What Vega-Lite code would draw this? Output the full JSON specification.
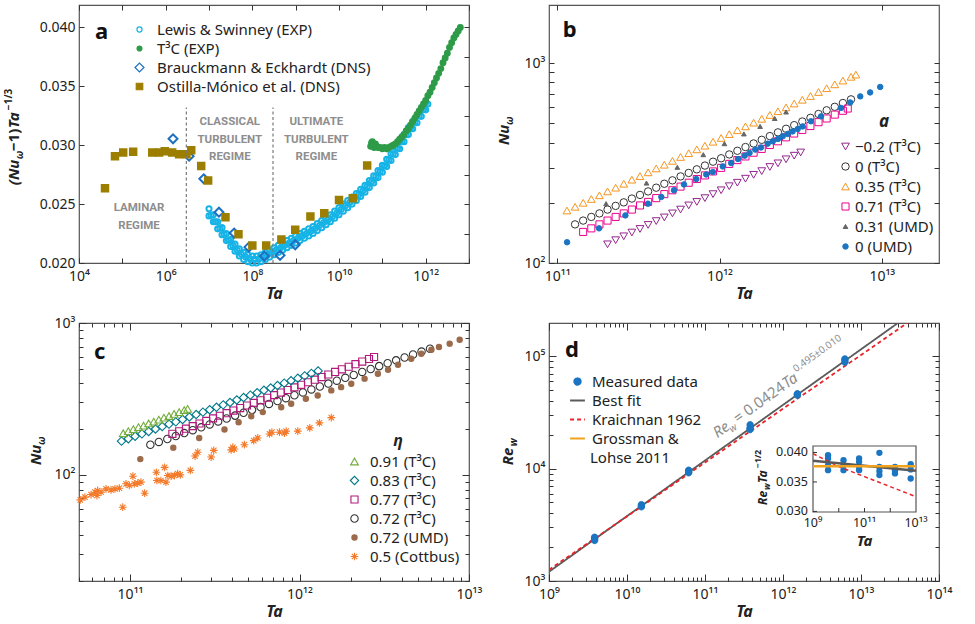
{
  "$schema": "https://vega.github.io/schema/vega-lite/v6.json",
  "background": "white",
  "padding": {"left": 3, "top": 3, "right": 5, "bottom": 5},
  "columns": 2,
  "spacing": {"row": 60, "column": 80},
  "bounds": "flush",
  "resolve": {
    "scale": {"shape": "independent", "fill": "independent", "stroke": "independent", "size": "independent", "strokeDash": "independent", "color": "independent", "opacity": "independent"},
    "legend": {"shape": "independent", "fill": "independent", "stroke": "independent", "size": "independent", "strokeDash": "independent"}
  },
  "concat": [
    {
      "width": 390, "height": 258,
      "resolve": {"axis": {"x": "independent", "y": "independent"}},
      "layer": [
        {"layer": [
          {
            "data": {"values": [
              {"ta":1e7,"v":0.0246,"s":"LS"},{"ta":1e7,"v":0.024,"s":"LS"},{"ta":1.122e7,"v":0.02405,"s":"LS"},
              {"ta":1.259e7,"v":0.0241,"s":"LS"},{"ta":1.259e7,"v":0.0235,"s":"LS"},{"ta":1.413e7,"v":0.0235,"s":"LS"},
              {"ta":1.585e7,"v":0.0235,"s":"LS"},{"ta":1.585e7,"v":0.0229,"s":"LS"},{"ta":1.778e7,"v":0.02295,"s":"LS"},
              {"ta":1.995e7,"v":0.023,"s":"LS"},{"ta":1.995e7,"v":0.0224,"s":"LS"},{"ta":2.239e7,"v":0.02245,"s":"LS"},
              {"ta":2.512e7,"v":0.0225,"s":"LS"},{"ta":2.512e7,"v":0.0219,"s":"LS"},{"ta":2.818e7,"v":0.02195,"s":"LS"},
              {"ta":3.162e7,"v":0.022,"s":"LS"},{"ta":3.162e7,"v":0.0214,"s":"LS"},{"ta":3.548e7,"v":0.0215,"s":"LS"},
              {"ta":3.981e7,"v":0.0216,"s":"LS"},{"ta":3.981e7,"v":0.021,"s":"LS"},{"ta":4.467e7,"v":0.0211,"s":"LS"},
              {"ta":5.012e7,"v":0.0212,"s":"LS"},{"ta":5.012e7,"v":0.0206,"s":"LS"},{"ta":5.623e7,"v":0.02075,"s":"LS"},
              {"ta":6.31e7,"v":0.0209,"s":"LS"},{"ta":6.31e7,"v":0.0203,"s":"LS"},{"ta":7.079e7,"v":0.0205,"s":"LS"},
              {"ta":7.943e7,"v":0.0207,"s":"LS"},{"ta":7.943e7,"v":0.0201,"s":"LS"},{"ta":8.913e7,"v":0.02035,"s":"LS"},
              {"ta":1e8,"v":0.0206,"s":"LS"},{"ta":1e8,"v":0.02,"s":"LS"},{"ta":1.122e8,"v":0.0203,"s":"LS"},
              {"ta":1.259e8,"v":0.0206,"s":"LS"},{"ta":1.259e8,"v":0.02,"s":"LS"},{"ta":1.413e8,"v":0.02035,"s":"LS"},
              {"ta":1.585e8,"v":0.0207,"s":"LS"},{"ta":1.585e8,"v":0.0201,"s":"LS"},{"ta":1.778e8,"v":0.0205,"s":"LS"},
              {"ta":1.995e8,"v":0.0209,"s":"LS"},{"ta":1.995e8,"v":0.0203,"s":"LS"},{"ta":2.239e8,"v":0.0207,"s":"LS"},
              {"ta":2.512e8,"v":0.0211,"s":"LS"},{"ta":2.512e8,"v":0.0205,"s":"LS"},{"ta":2.818e8,"v":0.0209,"s":"LS"},
              {"ta":3.162e8,"v":0.0213,"s":"LS"},{"ta":3.162e8,"v":0.0207,"s":"LS"},{"ta":3.548e8,"v":0.0211,"s":"LS"},
              {"ta":3.981e8,"v":0.0215,"s":"LS"},{"ta":3.981e8,"v":0.0209,"s":"LS"},{"ta":4.467e8,"v":0.0213,"s":"LS"},
              {"ta":5.012e8,"v":0.0217,"s":"LS"},{"ta":5.012e8,"v":0.0211,"s":"LS"},{"ta":5.623e8,"v":0.0215,"s":"LS"},
              {"ta":6.31e8,"v":0.0219,"s":"LS"},{"ta":6.31e8,"v":0.0213,"s":"LS"},{"ta":7.079e8,"v":0.0217,"s":"LS"},
              {"ta":7.943e8,"v":0.0221,"s":"LS"},{"ta":7.943e8,"v":0.0215,"s":"LS"},{"ta":8.913e8,"v":0.0219,"s":"LS"},
              {"ta":1e9,"v":0.0223,"s":"LS"},{"ta":1e9,"v":0.0217,"s":"LS"},{"ta":1.122e9,"v":0.0221,"s":"LS"},
              {"ta":1.259e9,"v":0.0225,"s":"LS"},{"ta":1.259e9,"v":0.0219,"s":"LS"},{"ta":1.413e9,"v":0.0223,"s":"LS"},
              {"ta":1.585e9,"v":0.0227,"s":"LS"},{"ta":1.585e9,"v":0.0221,"s":"LS"},{"ta":1.778e9,"v":0.0225,"s":"LS"},
              {"ta":1.995e9,"v":0.0229,"s":"LS"},{"ta":1.995e9,"v":0.0223,"s":"LS"},{"ta":2.239e9,"v":0.0227,"s":"LS"},
              {"ta":2.512e9,"v":0.0231,"s":"LS"},{"ta":2.512e9,"v":0.0225,"s":"LS"},{"ta":2.818e9,"v":0.02293,"s":"LS"},
              {"ta":3.162e9,"v":0.02335,"s":"LS"},{"ta":3.162e9,"v":0.02275,"s":"LS"},{"ta":3.548e9,"v":0.02318,"s":"LS"},
              {"ta":3.981e9,"v":0.0236,"s":"LS"},{"ta":3.981e9,"v":0.023,"s":"LS"},{"ta":4.467e9,"v":0.02343,"s":"LS"},
              {"ta":5.012e9,"v":0.02385,"s":"LS"},{"ta":5.012e9,"v":0.02325,"s":"LS"},{"ta":5.623e9,"v":0.02368,"s":"LS"},
              {"ta":6.31e9,"v":0.0241,"s":"LS"},{"ta":6.31e9,"v":0.0235,"s":"LS"},{"ta":7.079e9,"v":0.02395,"s":"LS"},
              {"ta":7.943e9,"v":0.0244,"s":"LS"},{"ta":7.943e9,"v":0.0238,"s":"LS"},{"ta":8.913e9,"v":0.02425,"s":"LS"},
              {"ta":1e10,"v":0.0247,"s":"LS"},{"ta":1e10,"v":0.0241,"s":"LS"},{"ta":1.122e10,"v":0.02455,"s":"LS"},
              {"ta":1.259e10,"v":0.025,"s":"LS"},{"ta":1.259e10,"v":0.0244,"s":"LS"},{"ta":1.413e10,"v":0.02485,"s":"LS"},
              {"ta":1.585e10,"v":0.0253,"s":"LS"},{"ta":1.585e10,"v":0.0247,"s":"LS"},{"ta":1.778e10,"v":0.02515,"s":"LS"},
              {"ta":1.995e10,"v":0.0256,"s":"LS"},{"ta":1.995e10,"v":0.025,"s":"LS"},{"ta":2.239e10,"v":0.02545,"s":"LS"},
              {"ta":2.512e10,"v":0.0259,"s":"LS"},{"ta":2.512e10,"v":0.0253,"s":"LS"},{"ta":2.818e10,"v":0.02578,"s":"LS"},
              {"ta":3.162e10,"v":0.02625,"s":"LS"},{"ta":3.162e10,"v":0.02565,"s":"LS"},{"ta":3.548e10,"v":0.02613,"s":"LS"},
              {"ta":3.981e10,"v":0.0266,"s":"LS"},{"ta":3.981e10,"v":0.026,"s":"LS"},{"ta":4.467e10,"v":0.0265,"s":"LS"},
              {"ta":5.012e10,"v":0.027,"s":"LS"},{"ta":5.012e10,"v":0.0264,"s":"LS"},{"ta":5.623e10,"v":0.0269,"s":"LS"},
              {"ta":6.31e10,"v":0.0274,"s":"LS"},{"ta":6.31e10,"v":0.0268,"s":"LS"},{"ta":7.079e10,"v":0.02733,"s":"LS"},
              {"ta":7.943e10,"v":0.02785,"s":"LS"},{"ta":7.943e10,"v":0.02725,"s":"LS"},{"ta":8.913e10,"v":0.02778,"s":"LS"},
              {"ta":1e11,"v":0.0283,"s":"LS"},{"ta":1e11,"v":0.0277,"s":"LS"},{"ta":1.122e11,"v":0.02825,"s":"LS"},
              {"ta":1.259e11,"v":0.0288,"s":"LS"},{"ta":1.259e11,"v":0.0282,"s":"LS"},{"ta":1.413e11,"v":0.02875,"s":"LS"},
              {"ta":1.585e11,"v":0.0293,"s":"LS"},{"ta":1.585e11,"v":0.0287,"s":"LS"},{"ta":1.778e11,"v":0.02925,"s":"LS"},
              {"ta":1.995e11,"v":0.0298,"s":"LS"},{"ta":1.995e11,"v":0.0292,"s":"LS"},{"ta":2.239e11,"v":0.02975,"s":"LS"},
              {"ta":2.512e11,"v":0.0303,"s":"LS"},{"ta":2.512e11,"v":0.0297,"s":"LS"},{"ta":2.818e11,"v":0.0303,"s":"LS"},
              {"ta":3.162e11,"v":0.0309,"s":"LS"},{"ta":3.162e11,"v":0.0303,"s":"LS"},{"ta":3.548e11,"v":0.0309,"s":"LS"},
              {"ta":3.981e11,"v":0.0315,"s":"LS"},{"ta":3.981e11,"v":0.0309,"s":"LS"},{"ta":4.467e11,"v":0.03145,"s":"LS"},
              {"ta":5.012e11,"v":0.032,"s":"LS"},{"ta":5.012e11,"v":0.0314,"s":"LS"},{"ta":5.623e11,"v":0.03195,"s":"LS"},
              {"ta":6.31e11,"v":0.0325,"s":"LS"},{"ta":6.31e11,"v":0.0319,"s":"LS"},{"ta":7.079e11,"v":0.03248,"s":"LS"},
              {"ta":7.943e11,"v":0.03305,"s":"LS"},{"ta":7.943e11,"v":0.03245,"s":"LS"},{"ta":8.913e11,"v":0.03303,"s":"LS"},
              {"ta":1e12,"v":0.0336,"s":"LS"},{"ta":1e12,"v":0.033,"s":"LS"},{"ta":1.122e12,"v":0.0335,"s":"LS"},
              {"ta":5.37e10,"v":0.0299,"s":"T3C"},{"ta":5.623e10,"v":0.0302,"s":"T3C"},{"ta":5.888e10,"v":0.0303,"s":"T3C"},
              {"ta":6.166e10,"v":0.03,"s":"T3C"},{"ta":6.457e10,"v":0.0298,"s":"T3C"},{"ta":6.918e10,"v":0.0301,"s":"T3C"},
              {"ta":7.413e10,"v":0.0299,"s":"T3C"},{"ta":7.943e10,"v":0.0298,"s":"T3C"},{"ta":8.913e10,"v":0.0298,"s":"T3C"},
              {"ta":1e11,"v":0.0297,"s":"T3C"},{"ta":1.122e11,"v":0.0298,"s":"T3C"},{"ta":1.259e11,"v":0.0297,"s":"T3C"},
              {"ta":1.413e11,"v":0.0298,"s":"T3C"},{"ta":1.585e11,"v":0.0299,"s":"T3C"},{"ta":1.778e11,"v":0.03,"s":"T3C"},
              {"ta":1.995e11,"v":0.0301,"s":"T3C"},{"ta":2.239e11,"v":0.0303,"s":"T3C"},{"ta":2.512e11,"v":0.0305,"s":"T3C"},
              {"ta":2.818e11,"v":0.0307,"s":"T3C"},{"ta":3.162e11,"v":0.0309,"s":"T3C"},{"ta":3.548e11,"v":0.0312,"s":"T3C"},
              {"ta":3.981e11,"v":0.0314,"s":"T3C"},{"ta":4.467e11,"v":0.0317,"s":"T3C"},{"ta":5.012e11,"v":0.032,"s":"T3C"},
              {"ta":5.623e11,"v":0.0323,"s":"T3C"},{"ta":6.31e11,"v":0.0326,"s":"T3C"},{"ta":7.079e11,"v":0.0329,"s":"T3C"},
              {"ta":7.943e11,"v":0.0332,"s":"T3C"},{"ta":8.913e11,"v":0.0335,"s":"T3C"},{"ta":1e12,"v":0.0338,"s":"T3C"},
              {"ta":1.122e12,"v":0.0342,"s":"T3C"},{"ta":1.259e12,"v":0.0345,"s":"T3C"},{"ta":1.413e12,"v":0.0349,"s":"T3C"},
              {"ta":1.585e12,"v":0.0353,"s":"T3C"},{"ta":1.778e12,"v":0.0357,"s":"T3C"},{"ta":1.995e12,"v":0.0361,"s":"T3C"},
              {"ta":2.239e12,"v":0.0365,"s":"T3C"},{"ta":2.512e12,"v":0.037,"s":"T3C"},{"ta":2.818e12,"v":0.0374,"s":"T3C"},
              {"ta":3.162e12,"v":0.0378,"s":"T3C"},{"ta":3.548e12,"v":0.0383,"s":"T3C"},{"ta":3.981e12,"v":0.0387,"s":"T3C"},
              {"ta":4.467e12,"v":0.0391,"s":"T3C"},{"ta":5.012e12,"v":0.0394,"s":"T3C"},{"ta":5.623e12,"v":0.0397,"s":"T3C"},
              {"ta":6.31e12,"v":0.04,"s":"T3C"},
              {"ta":1.479e6,"v":0.03054,"s":"BE"},{"ta":3.467e6,"v":0.02907,"s":"BE"},{"ta":7.586e6,"v":0.02715,"s":"BE"},
              {"ta":1.698e7,"v":0.02431,"s":"BE"},{"ta":3.802e7,"v":0.02254,"s":"BE"},{"ta":8.318e7,"v":0.02135,"s":"BE"},
              {"ta":1.905e8,"v":0.02059,"s":"BE"},{"ta":4.365e8,"v":0.02065,"s":"BE"},{"ta":9.772e8,"v":0.02155,"s":"BE"},
              {"ta":3.981e4,"v":0.02634,"s":"OM"},{"ta":6.761e4,"v":0.02907,"s":"OM"},{"ta":1.047e5,"v":0.02938,"s":"OM"},
              {"ta":1.778e5,"v":0.02944,"s":"OM"},{"ta":4.898e5,"v":0.02938,"s":"OM"},{"ta":7.079e5,"v":0.02938,"s":"OM"},
              {"ta":9.55e5,"v":0.02949,"s":"OM"},{"ta":1.413e6,"v":0.02938,"s":"OM"},{"ta":2.042e6,"v":0.02924,"s":"OM"},
              {"ta":3.02e6,"v":0.02924,"s":"OM"},{"ta":3.89e6,"v":0.02958,"s":"OM"},{"ta":6.607e6,"v":0.02823,"s":"OM"},
              {"ta":9.55e6,"v":0.02701,"s":"OM"},{"ta":2.399e7,"v":0.02389,"s":"OM"},{"ta":4.786e7,"v":0.02245,"s":"OM"},
              {"ta":1e8,"v":0.02149,"s":"OM"},{"ta":2.089e8,"v":0.02149,"s":"OM"},{"ta":4.677e8,"v":0.022,"s":"OM"},
              {"ta":9.772e8,"v":0.02282,"s":"OM"},{"ta":2.188e9,"v":0.02394,"s":"OM"},{"ta":4.571e9,"v":0.02423,"s":"OM"},
              {"ta":1e10,"v":0.02535,"s":"OM"},{"ta":2.089e10,"v":0.02549,"s":"OM"},{"ta":4.467e10,"v":0.02828,"s":"OM"}
            ]},
            "mark": {"type": "point", "filled": true, "opacity": 1, "strokeWidth": 2},
            "encoding": {
              "x": {"field": "ta", "type": "quantitative", "scale": {"type": "log", "domain": [1e4, 1e13], "nice": false},
                "axis": {"values": [1e4,1e5,1e6,1e7,1e8,1e9,1e10,1e11,1e12,1e13], "title": "Ta",
                  "labelExpr": "abs(log(datum.value)/LN10-round(log(datum.value)/LN10))<0.01 && round(log(datum.value)/LN10)%2==0 ? '10'+['⁰','¹','²','³','⁴','⁵','⁶','⁷','⁸','⁹','¹⁰','¹¹','¹²','¹³','¹⁴'][round(log(datum.value)/LN10)] : ''"}},
              "y": {"field": "v", "type": "quantitative", "scale": {"domain": [0.02, 0.0419], "nice": false, "zero": false},
                "axis": {"values": [0.02,0.0225,0.025,0.0275,0.03,0.0325,0.035,0.0375,0.04], "title": null,
                  "labelExpr": "round(datum.value*10000)%50==0 ? format(datum.value,'.3f') : ''"}},
              "shape": {"field": "s", "type": "nominal", "scale": {"domain": ["LS","T3C","BE","OM"], "range": ["circle","circle","diamond","square"]},
                "legend": {"orient": "none", "legendX": 53, "legendY": 17, "title": null, "labelOffset": 10, "rowPadding": 3, "symbolStrokeWidth": 1.2,
                  "labelExpr": "datum.label=='LS' ? 'Lewis & Swinney (EXP)' : datum.label=='T3C' ? 'T³C (EXP)' : datum.label=='BE' ? 'Brauckmann & Eckhardt (DNS)' : 'Ostilla-Mónico et al. (DNS)'"}},
              "fill": {"field": "s", "type": "nominal", "scale": {"domain": ["LS","T3C","BE","OM"], "range": ["transparent","#2e9b48","transparent","#9c7e00"]}},
              "stroke": {"field": "s", "type": "nominal", "scale": {"domain": ["LS","T3C","BE","OM"], "range": ["#16b3e6","#2e9b48","#1f6fc1","#9c7e00"]}},
              "size": {"field": "s", "type": "nominal", "scale": {"type": "ordinal", "domain": ["LS","T3C","BE","OM"], "range": [26,24,80,42]}}
            }
          },
          {
            "data": {"values": [{"ta": 3e6}, {"ta": 3e8}]},
            "mark": {"type": "rule", "color": "#7a7a7a", "strokeWidth": 1.2, "strokeDash": [3, 2.5]},
            "encoding": {"x": {"field": "ta", "type": "quantitative"}, "y": {"datum": 0.02}, "y2": {"datum": 0.0332}}
          },
          {
            "data": {"values": [{}]},
            "layer": [
              {"mark": {"type": "text", "fontSize": 22, "fontWeight": "bold", "align": "left", "baseline": "middle", "color": "#111"},
               "encoding": {"x": {"datum": 23400}, "y": {"datum": 0.0396}, "text": {"value": "a"}}},
              {"mark": {"type": "text", "font": "Roboto", "fontSize": 11.5, "fontWeight": "bold", "color": "#8e8e8e", "lineBreak": "\n", "lineHeight": 17.5, "align": "center", "baseline": "middle"},
               "encoding": {"x": {"datum": 2.43e5}, "y": {"datum": 0.02466}, "text": {"value": "LAMINAR\nREGIME"}}},
              {"mark": {"type": "text", "font": "Roboto", "fontSize": 11.5, "fontWeight": "bold", "color": "#8e8e8e", "lineBreak": "\n", "lineHeight": 17.5, "align": "center", "baseline": "middle"},
               "encoding": {"x": {"datum": 3.02e7}, "y": {"datum": 0.03195}, "text": {"value": "CLASSICAL\nTURBULENT\nREGIME"}}},
              {"mark": {"type": "text", "font": "Roboto", "fontSize": 11.5, "fontWeight": "bold", "color": "#8e8e8e", "lineBreak": "\n", "lineHeight": 17.5, "align": "center", "baseline": "middle"},
               "encoding": {"x": {"datum": 3.0e9}, "y": {"datum": 0.03195}, "text": {"value": "ULTIMATE\nTURBULENT\nREGIME"}}},
              {"mark": {"type": "text", "angle": 270, "align": "left", "baseline": "alphabetic", "fontSize": 15, "fontWeight": "bold", "fontStyle": "italic", "color": "#222"},
               "encoding": {"x": {"datum": 413}, "y": {"datum": 0.02661}, "text": {"value": "(Nu"}}},
              {"mark": {"type": "text", "angle": 270, "align": "left", "baseline": "alphabetic", "fontSize": 10, "fontWeight": "bold", "fontStyle": "italic", "color": "#222", "dx": 26, "dy": 4},
               "encoding": {"x": {"datum": 413}, "y": {"datum": 0.02661}, "text": {"value": "ω"}}},
              {"mark": {"type": "text", "angle": 270, "align": "left", "baseline": "alphabetic", "fontSize": 15, "fontWeight": "bold", "color": "#222", "dx": 34},
               "encoding": {"x": {"datum": 413}, "y": {"datum": 0.02661}, "text": {"value": "−1)"}}},
              {"mark": {"type": "text", "angle": 270, "align": "left", "baseline": "alphabetic", "fontSize": 15, "fontWeight": "bold", "fontStyle": "italic", "color": "#222", "dx": 57},
               "encoding": {"x": {"datum": 413}, "y": {"datum": 0.02661}, "text": {"value": "Ta"}}},
              {"mark": {"type": "text", "angle": 270, "align": "left", "baseline": "alphabetic", "fontSize": 10, "fontWeight": "bold", "color": "#222", "dx": 75, "dy": -7},
               "encoding": {"x": {"datum": 413}, "y": {"datum": 0.02661}, "text": {"value": "−1/3"}}}
            ]
          }
        ]},
        {
          "data": {"values": [{"ta": 1e6, "v": 0.03}]},
          "mark": {"type": "point", "opacity": 0},
          "encoding": {
            "x": {"field": "ta", "type": "quantitative", "scale": {"type": "log", "domain": [1e4, 1e13], "nice": false},
              "axis": {"orient": "top", "values": [1e4,1e5,1e6,1e7,1e8,1e9,1e10,1e11,1e12,1e13], "labels": false, "title": null}},
            "y": {"field": "v", "type": "quantitative", "scale": {"domain": [0.02, 0.0419], "nice": false, "zero": false},
              "axis": {"orient": "right", "values": [0.02,0.0225,0.025,0.0275,0.03,0.0325,0.035,0.0375,0.04], "labels": false, "title": null}}
          }
        }
      ]
    },
    {
      "width": 390, "height": 258,
      "resolve": {"axis": {"x": "independent", "y": "independent"}},
      "layer": [
        {"layer": [
          {
            "data": {"values": [
              {"ta":1.148e11,"nu":183,"s":"c35"},{"ta":1.288e11,"nu":191,"s":"c35"},{"ta":1.445e11,"nu":200,"s":"c35"},{"ta":1.622e11,"nu":209,"s":"c35"},
              {"ta":1.82e11,"nu":218,"s":"c35"},{"ta":2.042e11,"nu":228,"s":"c35"},{"ta":2.291e11,"nu":238,"s":"c35"},{"ta":2.57e11,"nu":249,"s":"c35"},
              {"ta":2.884e11,"nu":261,"s":"c35"},{"ta":3.236e11,"nu":272,"s":"c35"},{"ta":3.631e11,"nu":284,"s":"c35"},{"ta":4.074e11,"nu":297,"s":"c35"},
              {"ta":4.571e11,"nu":310,"s":"c35"},{"ta":5.129e11,"nu":324,"s":"c35"},{"ta":5.754e11,"nu":339,"s":"c35"},{"ta":6.457e11,"nu":354,"s":"c35"},
              {"ta":7.244e11,"nu":370,"s":"c35"},{"ta":8.128e11,"nu":386,"s":"c35"},{"ta":9.12e11,"nu":404,"s":"c35"},{"ta":1.023e12,"nu":422,"s":"c35"},
              {"ta":1.148e12,"nu":441,"s":"c35"},{"ta":1.288e12,"nu":461,"s":"c35"},{"ta":1.445e12,"nu":482,"s":"c35"},{"ta":1.622e12,"nu":503,"s":"c35"},
              {"ta":1.82e12,"nu":526,"s":"c35"},{"ta":2.042e12,"nu":550,"s":"c35"},{"ta":2.291e12,"nu":574,"s":"c35"},{"ta":2.57e12,"nu":600,"s":"c35"},
              {"ta":2.884e12,"nu":627,"s":"c35"},{"ta":3.236e12,"nu":655,"s":"c35"},{"ta":3.631e12,"nu":684,"s":"c35"},{"ta":4.074e12,"nu":716,"s":"c35"},
              {"ta":4.571e12,"nu":748,"s":"c35"},{"ta":5.129e12,"nu":782,"s":"c35"},{"ta":5.754e12,"nu":817,"s":"c35"},{"ta":6.457e12,"nu":853,"s":"c35"},
              {"ta":6.918e12,"nu":875,"s":"c35"},
              {"ta":1.288e11,"nu":156,"s":"c0"},{"ta":1.445e11,"nu":163,"s":"c0"},{"ta":1.622e11,"nu":170,"s":"c0"},{"ta":1.82e11,"nu":177,"s":"c0"},
              {"ta":2.042e11,"nu":185,"s":"c0"},{"ta":2.291e11,"nu":193,"s":"c0"},{"ta":2.57e11,"nu":201,"s":"c0"},{"ta":2.884e11,"nu":210,"s":"c0"},
              {"ta":3.236e11,"nu":219,"s":"c0"},{"ta":3.631e11,"nu":228,"s":"c0"},{"ta":4.074e11,"nu":238,"s":"c0"},{"ta":4.571e11,"nu":249,"s":"c0"},
              {"ta":5.129e11,"nu":259,"s":"c0"},{"ta":5.754e11,"nu":271,"s":"c0"},{"ta":6.457e11,"nu":282,"s":"c0"},{"ta":7.244e11,"nu":294,"s":"c0"},
              {"ta":8.128e11,"nu":307,"s":"c0"},{"ta":9.12e11,"nu":321,"s":"c0"},{"ta":1.023e12,"nu":334,"s":"c0"},{"ta":1.148e12,"nu":349,"s":"c0"},
              {"ta":1.288e12,"nu":364,"s":"c0"},{"ta":1.445e12,"nu":380,"s":"c0"},{"ta":1.622e12,"nu":396,"s":"c0"},{"ta":1.82e12,"nu":413,"s":"c0"},
              {"ta":2.042e12,"nu":431,"s":"c0"},{"ta":2.291e12,"nu":450,"s":"c0"},{"ta":2.57e12,"nu":469,"s":"c0"},{"ta":2.884e12,"nu":489,"s":"c0"},
              {"ta":3.236e12,"nu":510,"s":"c0"},{"ta":3.631e12,"nu":532,"s":"c0"},{"ta":4.074e12,"nu":556,"s":"c0"},{"ta":4.571e12,"nu":580,"s":"c0"},
              {"ta":5.129e12,"nu":604,"s":"c0"},{"ta":5.754e12,"nu":631,"s":"c0"},{"ta":6.457e12,"nu":658,"s":"c0"},
              {"ta":1.445e11,"nu":143,"s":"c71"},{"ta":1.622e11,"nu":149,"s":"c71"},{"ta":1.82e11,"nu":156,"s":"c71"},{"ta":2.042e11,"nu":163,"s":"c71"},
              {"ta":2.291e11,"nu":170,"s":"c71"},{"ta":2.57e11,"nu":177,"s":"c71"},{"ta":2.884e11,"nu":185,"s":"c71"},{"ta":3.236e11,"nu":194,"s":"c71"},
              {"ta":3.631e11,"nu":202,"s":"c71"},{"ta":4.074e11,"nu":211,"s":"c71"},{"ta":4.571e11,"nu":221,"s":"c71"},{"ta":5.129e11,"nu":231,"s":"c71"},
              {"ta":5.754e11,"nu":241,"s":"c71"},{"ta":6.457e11,"nu":252,"s":"c71"},{"ta":7.244e11,"nu":263,"s":"c71"},{"ta":8.128e11,"nu":274,"s":"c71"},
              {"ta":9.12e11,"nu":287,"s":"c71"},{"ta":1.023e12,"nu":299,"s":"c71"},{"ta":1.148e12,"nu":313,"s":"c71"},{"ta":1.288e12,"nu":327,"s":"c71"},
              {"ta":1.445e12,"nu":341,"s":"c71"},{"ta":1.622e12,"nu":356,"s":"c71"},{"ta":1.82e12,"nu":372,"s":"c71"},{"ta":2.042e12,"nu":389,"s":"c71"},
              {"ta":2.291e12,"nu":406,"s":"c71"},{"ta":2.57e12,"nu":425,"s":"c71"},{"ta":2.884e12,"nu":444,"s":"c71"},{"ta":3.236e12,"nu":463,"s":"c71"},
              {"ta":3.631e12,"nu":484,"s":"c71"},{"ta":4.074e12,"nu":506,"s":"c71"},{"ta":4.571e12,"nu":528,"s":"c71"},{"ta":5.129e12,"nu":552,"s":"c71"},
              {"ta":5.754e12,"nu":577,"s":"c71"},{"ta":6.166e12,"nu":592,"s":"c71"},
              {"ta":2.042e11,"nu":124,"s":"m02"},{"ta":2.291e11,"nu":130,"s":"m02"},{"ta":2.57e11,"nu":136,"s":"m02"},{"ta":2.884e11,"nu":142,"s":"m02"},
              {"ta":3.236e11,"nu":148,"s":"m02"},{"ta":3.631e11,"nu":155,"s":"m02"},{"ta":4.074e11,"nu":162,"s":"m02"},{"ta":4.571e11,"nu":169,"s":"m02"},
              {"ta":5.129e11,"nu":177,"s":"m02"},{"ta":5.754e11,"nu":185,"s":"m02"},{"ta":6.457e11,"nu":194,"s":"m02"},{"ta":7.244e11,"nu":202,"s":"m02"},
              {"ta":8.128e11,"nu":211,"s":"m02"},{"ta":9.12e11,"nu":221,"s":"m02"},{"ta":1.023e12,"nu":231,"s":"m02"},{"ta":1.148e12,"nu":242,"s":"m02"},
              {"ta":1.288e12,"nu":252,"s":"m02"},{"ta":1.445e12,"nu":264,"s":"m02"},{"ta":1.622e12,"nu":276,"s":"m02"},{"ta":1.82e12,"nu":288,"s":"m02"},
              {"ta":2.042e12,"nu":302,"s":"m02"},{"ta":2.291e12,"nu":315,"s":"m02"},{"ta":2.57e12,"nu":330,"s":"m02"},{"ta":2.884e12,"nu":344,"s":"m02"},
              {"ta":3.162e12,"nu":357,"s":"m02"},
              {"ta":2e11,"nu":198,"s":"u31"},{"ta":3.548e11,"nu":251,"s":"u31"},{"ta":5.495e11,"nu":301,"s":"u31"},{"ta":7.943e11,"nu":348,"s":"u31"},
              {"ta":1.072e12,"nu":395,"s":"u31"},{"ta":1.413e12,"nu":442,"s":"u31"},{"ta":1.778e12,"nu":482,"s":"u31"},{"ta":2.188e12,"nu":528,"s":"u31"},
              {"ta":2.57e12,"nu":569,"s":"u31"},
              {"ta":1.15e11,"nu":127,"s":"u0"},{"ta":1.81e11,"nu":149,"s":"u0"},{"ta":2.63e11,"nu":173,"s":"u0"},{"ta":3.62e11,"nu":198,"s":"u0"},
              {"ta":4.38e11,"nu":214,"s":"u0"},{"ta":5.24e11,"nu":231,"s":"u0"},{"ta":6.04e11,"nu":247,"s":"u0"},{"ta":7.19e11,"nu":263,"s":"u0"},
              {"ta":8.28e11,"nu":277,"s":"u0"},{"ta":9.1e11,"nu":285,"s":"u0"},{"ta":1.047e12,"nu":304,"s":"u0"},{"ta":1.18e12,"nu":316,"s":"u0"},
              {"ta":1.3e12,"nu":331,"s":"u0"},{"ta":1.43e12,"nu":344,"s":"u0"},{"ta":1.53e12,"nu":355,"s":"u0"},{"ta":1.66e12,"nu":369,"s":"u0"},
              {"ta":1.8e12,"nu":378,"s":"u0"},{"ta":1.98e12,"nu":395,"s":"u0"},{"ta":2.13e12,"nu":406,"s":"u0"},{"ta":2.29e12,"nu":417,"s":"u0"},
              {"ta":2.45e12,"nu":430,"s":"u0"},{"ta":2.63e12,"nu":442,"s":"u0"},{"ta":2.82e12,"nu":455,"s":"u0"},{"ta":3.03e12,"nu":468,"s":"u0"},
              {"ta":3.25e12,"nu":482,"s":"u0"},{"ta":3.66e12,"nu":511,"s":"u0"},{"ta":4.22e12,"nu":541,"s":"u0"},{"ta":5.6e12,"nu":596,"s":"u0"},
              {"ta":6.38e12,"nu":635,"s":"u0"},{"ta":7.36e12,"nu":681,"s":"u0"},{"ta":8.47e12,"nu":713,"s":"u0"},{"ta":9.77e12,"nu":759,"s":"u0"}
            ]},
            "mark": {"type": "point", "filled": true, "opacity": 1, "strokeWidth": 1},
            "encoding": {
              "x": {"field": "ta", "type": "quantitative", "scale": {"type": "log", "domain": [8.9e10, 2.25e13], "nice": false},
                "axis": {"values": [1e11,1e12,1e13], "title": "Ta",
                  "labelExpr": "abs(log(datum.value)/LN10-round(log(datum.value)/LN10))<0.01 ? '10'+['⁰','¹','²','³','⁴','⁵','⁶','⁷','⁸','⁹','¹⁰','¹¹','¹²','¹³','¹⁴'][round(log(datum.value)/LN10)] : ''"}},
              "y": {"field": "nu", "type": "quantitative", "scale": {"type": "log", "domain": [100, 1950], "nice": false},
                "axis": {"values": [100,200,300,400,500,600,700,800,900,1000], "title": null,
                  "labelExpr": "abs(log(datum.value)/LN10-round(log(datum.value)/LN10))<0.01 ? '10'+['⁰','¹','²','³','⁴','⁵','⁶','⁷','⁸','⁹','¹⁰','¹¹','¹²','¹³','¹⁴'][round(log(datum.value)/LN10)] : ''"}},
              "shape": {"field": "s", "type": "nominal", "scale": {"domain": ["m02","c0","c35","c71","u31","u0"], "range": ["triangle-down","circle","triangle-up","square","triangle-up","circle"]},
                "legend": {"orient": "none", "legendX": 289, "legendY": 134, "title": null, "labelOffset": 2, "rowPadding": 4, "symbolStrokeWidth": 1,
                  "labelExpr": "datum.label=='m02' ? '−0.2 (T³C)' : datum.label=='c0' ? '0 (T³C)' : datum.label=='c35' ? '0.35 (T³C)' : datum.label=='c71' ? '0.71 (T³C)' : datum.label=='u31' ? '0.31 (UMD)' : '0 (UMD)'"}},
              "fill": {"field": "s", "type": "nominal", "scale": {"domain": ["m02","c0","c35","c71","u31","u0"], "range": ["transparent","transparent","transparent","transparent","#666666","#1a75c2"]}},
              "stroke": {"field": "s", "type": "nominal", "scale": {"domain": ["m02","c0","c35","c71","u31","u0"], "range": ["#93278f","#333333","#f7941d","#ec008c","#666666","#1a75c2"]}},
              "size": {"field": "s", "type": "nominal", "scale": {"type": "ordinal", "domain": ["m02","c0","c35","c71","u31","u0"], "range": [60,55,60,50,22,30]}}
            }
          },
          {
            "data": {"values": [{}]},
            "layer": [
              {"mark": {"type": "text", "fontSize": 22, "fontWeight": "bold", "align": "left", "baseline": "middle", "color": "#111"},
               "encoding": {"x": {"datum": 1.08e11}, "y": {"datum": 1462}, "text": {"value": "b"}}},
              {"mark": {"type": "text", "fontSize": 17, "fontWeight": "bold", "fontStyle": "italic", "align": "center", "baseline": "middle", "color": "#222"},
               "encoding": {"x": {"datum": 1.03e13}, "y": {"datum": 505}, "text": {"value": "a"}}},
              {"mark": {"type": "text", "angle": 270, "align": "left", "baseline": "alphabetic", "fontSize": 15, "fontWeight": "bold", "fontStyle": "italic", "color": "#222"},
               "encoding": {"x": {"datum": 5.05e10}, "y": {"datum": 389}, "text": {"value": "Nu"}}},
              {"mark": {"type": "text", "angle": 270, "align": "left", "baseline": "alphabetic", "fontSize": 10, "fontWeight": "bold", "fontStyle": "italic", "color": "#222", "dx": 20, "dy": 4},
               "encoding": {"x": {"datum": 5.05e10}, "y": {"datum": 389}, "text": {"value": "ω"}}}
            ]
          }
        ]},
        {
          "data": {"values": [{"ta": 1e12, "nu": 300}]},
          "mark": {"type": "point", "opacity": 0},
          "encoding": {
            "x": {"field": "ta", "type": "quantitative", "scale": {"type": "log", "domain": [8.9e10, 2.25e13], "nice": false},
              "axis": {"orient": "top", "values": [1e11,1e12,1e13], "labels": false, "title": null}},
            "y": {"field": "nu", "type": "quantitative", "scale": {"type": "log", "domain": [100, 1950], "nice": false},
              "axis": {"orient": "right", "values": [100,200,300,400,500,600,700,800,900,1000], "labels": false, "title": null}}
          }
        }
      ]
    },
    {
      "width": 390, "height": 258,
      "resolve": {"axis": {"x": "independent", "y": "independent"}},
      "layer": [
        {"layer": [
          {
            "data": {"values": [
              {"ta":5.09e10,"nu":68.4,"s":"cb"},{"ta":5.42e10,"nu":71.3,"s":"cb"},{"ta":5.89e10,"nu":74.2,"s":"cb"},{"ta":6.21e10,"nu":76.9,"s":"cb"},
              {"ta":6.44e10,"nu":78.9,"s":"cb"},{"ta":6.38e10,"nu":73.1,"s":"cb"},{"ta":6.75e10,"nu":76.9,"s":"cb"},{"ta":7.22e10,"nu":80.9,"s":"cb"},
              {"ta":7.73e10,"nu":79.6,"s":"cb"},{"ta":8.15e10,"nu":80.9,"s":"cb"},{"ta":8.65e10,"nu":81.7,"s":"cb"},{"ta":9.06e10,"nu":61.2,"s":"cb"},
              {"ta":9.47e10,"nu":87.3,"s":"cb"},{"ta":9.91e10,"nu":85.1,"s":"cb"},{"ta":1.04e11,"nu":98,"s":"cb"},{"ta":1.06e11,"nu":87.3,"s":"cb"},
              {"ta":1.11e11,"nu":88.1,"s":"cb"},{"ta":1.16e11,"nu":89.5,"s":"cb"},{"ta":1.22e11,"nu":75.7,"s":"cb"},{"ta":1.43e11,"nu":104,"s":"cb"},
              {"ta":1.44e11,"nu":91.8,"s":"cb"},{"ta":1.52e11,"nu":91.8,"s":"cb"},{"ta":1.6e11,"nu":112,"s":"cb"},{"ta":1.63e11,"nu":89.5,"s":"cb"},
              {"ta":1.67e11,"nu":99,"s":"cb"},{"ta":1.75e11,"nu":98,"s":"cb"},{"ta":1.83e11,"nu":99,"s":"cb"},{"ta":1.91e11,"nu":102,"s":"cb"},
              {"ta":1.98e11,"nu":100,"s":"cb"},{"ta":2.27e11,"nu":107,"s":"cb"},{"ta":2.42e11,"nu":133,"s":"cb"},{"ta":2.51e11,"nu":141,"s":"cb"},
              {"ta":3.01e11,"nu":131,"s":"cb"},{"ta":3.12e11,"nu":145,"s":"cb"},{"ta":3.95e11,"nu":146,"s":"cb"},{"ta":4.04e11,"nu":152,"s":"cb"},
              {"ta":4.13e11,"nu":148,"s":"cb"},{"ta":4.73e11,"nu":158,"s":"cb"},{"ta":5.37e11,"nu":168,"s":"cb"},{"ta":5.67e11,"nu":175,"s":"cb"},
              {"ta":6.65e11,"nu":186,"s":"cb"},{"ta":6.87e11,"nu":191,"s":"cb"},{"ta":7.62e11,"nu":191,"s":"cb"},{"ta":8.15e11,"nu":188,"s":"cb"},
              {"ta":8.34e11,"nu":194,"s":"cb"},{"ta":9.77e11,"nu":194,"s":"cb"},{"ta":1.15e12,"nu":204,"s":"cb"},{"ta":1.31e12,"nu":220,"s":"cb"},
              {"ta":1.54e12,"nu":238,"s":"cb"},
              {"ta":1.318e11,"nu":157.8,"s":"e72"},{"ta":1.479e11,"nu":164.8,"s":"e72"},{"ta":1.66e11,"nu":172.2,"s":"e72"},{"ta":1.862e11,"nu":180.3,"s":"e72"},
              {"ta":2.089e11,"nu":188.4,"s":"e72"},{"ta":2.344e11,"nu":196.8,"s":"e72"},{"ta":2.63e11,"nu":205.6,"s":"e72"},{"ta":2.951e11,"nu":214.8,"s":"e72"},
              {"ta":3.311e11,"nu":224.9,"s":"e72"},{"ta":3.715e11,"nu":235,"s":"e72"},{"ta":4.169e11,"nu":245.5,"s":"e72"},{"ta":4.677e11,"nu":256.4,"s":"e72"},
              {"ta":5.248e11,"nu":267.9,"s":"e72"},{"ta":5.888e11,"nu":279.9,"s":"e72"},{"ta":6.607e11,"nu":293.1,"s":"e72"},{"ta":7.413e11,"nu":306.2,"s":"e72"},
              {"ta":8.318e11,"nu":319.9,"s":"e72"},{"ta":9.333e11,"nu":334.2,"s":"e72"},{"ta":1.047e12,"nu":349.1,"s":"e72"},{"ta":1.175e12,"nu":365.4,"s":"e72"},
              {"ta":1.318e12,"nu":381.9,"s":"e72"},{"ta":1.479e12,"nu":398.9,"s":"e72"},{"ta":1.66e12,"nu":416.9,"s":"e72"},{"ta":1.862e12,"nu":435.5,"s":"e72"},
              {"ta":2.089e12,"nu":455,"s":"e72"},{"ta":2.344e12,"nu":476.4,"s":"e72"},{"ta":2.63e12,"nu":497.7,"s":"e72"},{"ta":2.951e12,"nu":520,"s":"e72"},
              {"ta":3.311e12,"nu":543.3,"s":"e72"},{"ta":3.715e12,"nu":567.5,"s":"e72"},{"ta":4.169e12,"nu":592.9,"s":"e72"},{"ta":4.677e12,"nu":620.9,"s":"e72"},
              {"ta":5.248e12,"nu":648.6,"s":"e72"},{"ta":5.888e12,"nu":677.5,"s":"e72"},
              {"ta":1.15e11,"nu":127,"s":"u72"},{"ta":1.8e11,"nu":151,"s":"u72"},{"ta":2.56e11,"nu":175,"s":"u72"},{"ta":3.61e11,"nu":199,"s":"u72"},
              {"ta":4.37e11,"nu":222,"s":"u72"},{"ta":5.19e11,"nu":243,"s":"u72"},{"ta":6.07e11,"nu":259,"s":"u72"},{"ta":7.8e11,"nu":279,"s":"u72"},
              {"ta":8.93e11,"nu":294,"s":"u72"},{"ta":1.09e12,"nu":317,"s":"u72"},{"ta":1.28e12,"nu":333,"s":"u72"},{"ta":1.54e12,"nu":360,"s":"u72"},
              {"ta":1.76e12,"nu":378,"s":"u72"},{"ta":2.02e12,"nu":398,"s":"u72"},{"ta":2.42e12,"nu":430,"s":"u72"},{"ta":2.9e12,"nu":463,"s":"u72"},
              {"ta":3.33e12,"nu":492,"s":"u72"},{"ta":3.81e12,"nu":531,"s":"u72"},{"ta":4.56e12,"nu":582,"s":"u72"},{"ta":5.23e12,"nu":628,"s":"u72"},
              {"ta":6e12,"nu":667,"s":"u72"},{"ta":6.65e12,"nu":695,"s":"u72"},{"ta":7.69e12,"nu":731,"s":"u72"},{"ta":8.81e12,"nu":776,"s":"u72"},
              {"ta":1.778e11,"nu":186.2,"s":"e77"},{"ta":1.95e11,"nu":193.6,"s":"e77"},{"ta":2.138e11,"nu":201.4,"s":"e77"},{"ta":2.344e11,"nu":209.4,"s":"e77"},
              {"ta":2.57e11,"nu":217.8,"s":"e77"},{"ta":2.818e11,"nu":226.5,"s":"e77"},{"ta":3.09e11,"nu":235.5,"s":"e77"},{"ta":3.388e11,"nu":244.9,"s":"e77"},
              {"ta":3.715e11,"nu":254.7,"s":"e77"},{"ta":4.074e11,"nu":264.9,"s":"e77"},{"ta":4.467e11,"nu":275.4,"s":"e77"},{"ta":4.898e11,"nu":286.4,"s":"e77"},
              {"ta":5.37e11,"nu":297.8,"s":"e77"},{"ta":5.888e11,"nu":309.7,"s":"e77"},{"ta":6.457e11,"nu":322.1,"s":"e77"},{"ta":7.079e11,"nu":335,"s":"e77"},
              {"ta":7.762e11,"nu":348.3,"s":"e77"},{"ta":8.511e11,"nu":362.2,"s":"e77"},{"ta":9.333e11,"nu":376.7,"s":"e77"},{"ta":1.023e12,"nu":391.7,"s":"e77"},
              {"ta":1.122e12,"nu":407.4,"s":"e77"},{"ta":1.23e12,"nu":423.6,"s":"e77"},{"ta":1.349e12,"nu":440.6,"s":"e77"},{"ta":1.479e12,"nu":458.1,"s":"e77"},
              {"ta":1.622e12,"nu":476.4,"s":"e77"},{"ta":1.778e12,"nu":495.5,"s":"e77"},{"ta":1.95e12,"nu":515.2,"s":"e77"},{"ta":2.138e12,"nu":535.8,"s":"e77"},
              {"ta":2.344e12,"nu":557.2,"s":"e77"},{"ta":2.57e12,"nu":579.4,"s":"e77"},{"ta":2.754e12,"nu":597,"s":"e77"},
              {"ta":8.91e10,"nu":166.7,"s":"e83"},{"ta":9.77e10,"nu":173,"s":"e83"},{"ta":1.072e11,"nu":179.5,"s":"e83"},{"ta":1.175e11,"nu":186.2,"s":"e83"},
              {"ta":1.288e11,"nu":193.2,"s":"e83"},{"ta":1.413e11,"nu":200.4,"s":"e83"},{"ta":1.549e11,"nu":208,"s":"e83"},{"ta":1.698e11,"nu":215.8,"s":"e83"},
              {"ta":1.862e11,"nu":223.4,"s":"e83"},{"ta":2.042e11,"nu":231.7,"s":"e83"},{"ta":2.239e11,"nu":240.4,"s":"e83"},{"ta":2.455e11,"nu":249.5,"s":"e83"},
              {"ta":2.692e11,"nu":258.8,"s":"e83"},{"ta":2.951e11,"nu":268.5,"s":"e83"},{"ta":3.236e11,"nu":278.6,"s":"e83"},{"ta":3.548e11,"nu":289.1,"s":"e83"},
              {"ta":3.89e11,"nu":299.9,"s":"e83"},{"ta":4.266e11,"nu":311.2,"s":"e83"},{"ta":4.677e11,"nu":322.8,"s":"e83"},{"ta":5.129e11,"nu":335,"s":"e83"},
              {"ta":5.623e11,"nu":347.5,"s":"e83"},{"ta":6.166e11,"nu":360.6,"s":"e83"},{"ta":6.761e11,"nu":373.3,"s":"e83"},{"ta":7.413e11,"nu":387.3,"s":"e83"},
              {"ta":8.128e11,"nu":401.8,"s":"e83"},{"ta":8.913e11,"nu":416.9,"s":"e83"},{"ta":9.772e11,"nu":432.5,"s":"e83"},{"ta":1.072e12,"nu":448.7,"s":"e83"},
              {"ta":1.175e12,"nu":465.6,"s":"e83"},{"ta":1.288e12,"nu":483.1,"s":"e83"},
              {"ta":9.12e10,"nu":188,"s":"e91"},{"ta":9.77e10,"nu":194,"s":"e91"},{"ta":1.047e11,"nu":200,"s":"e91"},{"ta":1.122e11,"nu":206,"s":"e91"},
              {"ta":1.202e11,"nu":211,"s":"e91"},{"ta":1.288e11,"nu":218,"s":"e91"},{"ta":1.38e11,"nu":224,"s":"e91"},{"ta":1.479e11,"nu":231,"s":"e91"},
              {"ta":1.585e11,"nu":238,"s":"e91"},{"ta":1.698e11,"nu":244,"s":"e91"},{"ta":1.82e11,"nu":252,"s":"e91"},{"ta":1.95e11,"nu":259,"s":"e91"},
              {"ta":2.089e11,"nu":267,"s":"e91"},{"ta":2.188e11,"nu":272,"s":"e91"}
            ]},
            "mark": {"type": "point", "filled": true, "opacity": 1, "strokeWidth": 1.1},
            "encoding": {
              "x": {"field": "ta", "type": "quantitative", "scale": {"type": "log", "domain": [5e10, 1e13], "nice": false},
                "axis": {"values": [1e11,1e12,1e13], "tickSize": 7, "offset": -7, "title": "Ta",
                  "labelExpr": "abs(log(datum.value)/LN10-round(log(datum.value)/LN10))<0.01 ? '10'+['⁰','¹','²','³','⁴','⁵','⁶','⁷','⁸','⁹','¹⁰','¹¹','¹²','¹³','¹⁴'][round(log(datum.value)/LN10)] : ''"}},
              "y": {"field": "nu", "type": "quantitative", "scale": {"type": "log", "domain": [20, 1000], "nice": false},
                "axis": {"values": [100,1000], "tickSize": 7, "offset": -7, "title": null,
                  "labelExpr": "abs(log(datum.value)/LN10-round(log(datum.value)/LN10))<0.01 ? '10'+['⁰','¹','²','³','⁴','⁵','⁶','⁷','⁸','⁹','¹⁰','¹¹','¹²','¹³','¹⁴'][round(log(datum.value)/LN10)] : ''"}},
              "shape": {"field": "s", "type": "nominal", "scale": {"domain": ["e91","e83","e77","e72","u72","cb"], "range": ["triangle-up","diamond","square","circle","circle","M0,-1L0,1M-1,0L1,0M-0.7,-0.7L0.7,0.7M-0.7,0.7L0.7,-0.7"]},
                "legend": {"orient": "none", "legendX": 268, "legendY": 131, "title": null, "labelOffset": 8, "rowPadding": 3, "symbolStrokeWidth": 1.1,
                  "labelExpr": "datum.label=='e91' ? '0.91 (T³C)' : datum.label=='e83' ? '0.83 (T³C)' : datum.label=='e77' ? '0.77 (T³C)' : datum.label=='e72' ? '0.72 (T³C)' : datum.label=='u72' ? '0.72 (UMD)' : '0.5 (Cottbus)'"}},
              "fill": {"field": "s", "type": "nominal", "scale": {"domain": ["e91","e83","e77","e72","u72","cb"], "range": ["transparent","transparent","transparent","transparent","#9b6b4b","transparent"]}},
              "stroke": {"field": "s", "type": "nominal", "scale": {"domain": ["e91","e83","e77","e72","u72","cb"], "range": ["#72ad3a","#00788a","#b3197c","#333333","#9b6b4b","#f47a2a"]}},
              "size": {"field": "s", "type": "nominal", "scale": {"type": "ordinal", "domain": ["e91","e83","e77","e72","u72","cb"], "range": [60,70,50,55,28,60]}}
            }
          },
          {
            "data": {"values": [{}]},
            "layer": [
              {"mark": {"type": "text", "fontSize": 22, "fontWeight": "bold", "align": "left", "baseline": "middle", "color": "#111"},
               "encoding": {"x": {"datum": 6.12e10}, "y": {"datum": 644}, "text": {"value": "c"}}},
              {"mark": {"type": "text", "fontSize": 16, "fontWeight": "bold", "fontStyle": "italic", "align": "center", "baseline": "middle", "color": "#222"},
               "encoding": {"x": {"datum": 3.81e12}, "y": {"datum": 168}, "text": {"value": "η"}}},
              {"mark": {"type": "text", "angle": 270, "align": "left", "baseline": "alphabetic", "fontSize": 15, "fontWeight": "bold", "fontStyle": "italic", "color": "#222"},
               "encoding": {"x": {"datum": 2.98e10}, "y": {"datum": 116}, "text": {"value": "Nu"}}},
              {"mark": {"type": "text", "angle": 270, "align": "left", "baseline": "alphabetic", "fontSize": 10, "fontWeight": "bold", "fontStyle": "italic", "color": "#222", "dx": 20, "dy": 4},
               "encoding": {"x": {"datum": 2.98e10}, "y": {"datum": 116}, "text": {"value": "ω"}}}
            ]
          }
        ]},
        {
          "data": {"values": [{"ta": 1e12, "nu": 300}]},
          "mark": {"type": "point", "opacity": 0},
          "encoding": {
            "x": {"field": "ta", "type": "quantitative", "scale": {"type": "log", "domain": [5e10, 1e13], "nice": false},
              "axis": {"orient": "top", "values": [1e11,1e12,1e13], "tickSize": 7, "offset": -7, "labels": false, "title": null}},
            "y": {"field": "nu", "type": "quantitative", "scale": {"type": "log", "domain": [20, 1000], "nice": false},
              "axis": {"orient": "right", "values": [100,1000], "tickSize": 7, "offset": -7, "labels": false, "title": null}}
          }
        },
        {
          "data": {"values": [{"ta": 1e12, "nu": 300}]},
          "mark": {"type": "point", "opacity": 0},
          "encoding": {
            "x": {"field": "ta", "type": "quantitative", "scale": {"type": "log", "domain": [5e10, 1e13], "nice": false},
              "axis": {"orient": "bottom", "values": [5e10,6e10,7e10,8e10,9e10,2e11,3e11,4e11,5e11,6e11,7e11,8e11,9e11,2e12,3e12,4e12,5e12,6e12,7e12,8e12,9e12], "tickSize": 4, "offset": -4, "labels": false, "title": null}},
            "y": {"field": "nu", "type": "quantitative", "scale": {"type": "log", "domain": [20, 1000], "nice": false},
              "axis": {"orient": "left", "values": [20,30,40,50,60,70,80,90,200,300,400,500,600,700,800,900], "tickSize": 4, "offset": -4, "labels": false, "title": null}}
          }
        },
        {
          "data": {"values": [{"ta": 1e12, "nu": 300}]},
          "mark": {"type": "point", "opacity": 0},
          "encoding": {
            "x": {"field": "ta", "type": "quantitative", "scale": {"type": "log", "domain": [5e10, 1e13], "nice": false},
              "axis": {"orient": "top", "values": [5e10,6e10,7e10,8e10,9e10,2e11,3e11,4e11,5e11,6e11,7e11,8e11,9e11,2e12,3e12,4e12,5e12,6e12,7e12,8e12,9e12], "tickSize": 4, "offset": -4, "labels": false, "title": null}},
            "y": {"field": "nu", "type": "quantitative", "scale": {"type": "log", "domain": [20, 1000], "nice": false},
              "axis": {"orient": "right", "values": [20,30,40,50,60,70,80,90,200,300,400,500,600,700,800,900], "tickSize": 4, "offset": -4, "labels": false, "title": null}}
          }
        }
      ]
    },
    {
      "width": 390, "height": 258,
      "resolve": {"scale": {"x": "independent", "y": "independent"}, "axis": {"x": "independent", "y": "independent"}},
      "layer": [
        {"layer": [
          {
            "data": {"values": [
              {"ta":1e9,"re":1209,"sd":"fit"},{"ta":1e14,"re":360900,"sd":"fit"},
              {"ta":1e9,"re":1259,"sd":"kr"},{"ta":1e10,"re":3760,"sd":"kr"},{"ta":1e11,"re":11353,"sd":"kr"},
              {"ta":1e12,"re":34200,"sd":"kr"},{"ta":1e13,"re":102772,"sd":"kr"},{"ta":1e14,"re":310000,"sd":"kr"}
            ]},
            "mark": {"type": "line", "clip": true, "strokeWidth": 1.8},
            "encoding": {
              "x": {"field": "ta", "type": "quantitative"},
              "y": {"field": "re", "type": "quantitative"},
              "stroke": {"field": "sd", "type": "nominal", "scale": {"domain": ["meas","fit","kr","gl"], "range": ["#1a75c2","#5a5a5a","#e8242a","#f0a21e"]}},
              "strokeDash": {"field": "sd", "type": "nominal", "scale": {"domain": ["meas","fit","kr","gl"], "range": [[1,0],[1,0],[4,3],[1,0]]}}
            }
          },
          {
            "data": {"values": [
              {"ta":3.84e9,"re":2451,"sd":"meas"},{"ta":3.84e9,"re":2415,"sd":"meas"},{"ta":3.84e9,"re":2345,"sd":"meas"},{"ta":3.84e9,"re":2293,"sd":"meas"},
              {"ta":1.53e10,"re":4787,"sd":"meas"},{"ta":1.53e10,"re":4682,"sd":"meas"},{"ta":1.53e10,"re":4577,"sd":"meas"},
              {"ta":6.17e10,"re":9683,"sd":"meas"},{"ta":6.17e10,"re":9543,"sd":"meas"},{"ta":6.17e10,"re":9332,"sd":"meas"},{"ta":6.17e10,"re":9191,"sd":"meas"},
              {"ta":3.79e11,"re":24588,"sd":"meas"},{"ta":3.79e11,"re":23129,"sd":"meas"},{"ta":3.79e11,"re":22680,"sd":"meas"},{"ta":3.79e11,"re":22261,"sd":"meas"},
              {"ta":1.53e12,"re":46472,"sd":"meas"},{"ta":1.53e12,"re":45767,"sd":"meas"},{"ta":1.53e12,"re":45074,"sd":"meas"},
              {"ta":6.22e12,"re":94822,"sd":"meas"},{"ta":6.22e12,"re":92577,"sd":"meas"},{"ta":6.22e12,"re":88761,"sd":"meas"}
            ]},
            "mark": {"type": "point", "filled": true, "opacity": 1, "strokeWidth": 1},
            "encoding": {
              "x": {"field": "ta", "type": "quantitative", "scale": {"type": "log", "domain": [1e9, 1e14], "nice": false},
                "axis": {"values": [1e9,1e10,1e11,1e12,1e13,1e14], "tickSize": 7, "offset": -7, "title": "Ta",
                  "labelExpr": "abs(log(datum.value)/LN10-round(log(datum.value)/LN10))<0.01 ? '10'+['⁰','¹','²','³','⁴','⁵','⁶','⁷','⁸','⁹','¹⁰','¹¹','¹²','¹³','¹⁴'][round(log(datum.value)/LN10)] : ''"}},
              "y": {"field": "re", "type": "quantitative", "scale": {"type": "log", "domain": [1000, 198000], "nice": false},
                "axis": {"values": [1000,10000,100000], "tickSize": 7, "offset": -7, "title": null,
                  "labelExpr": "abs(log(datum.value)/LN10-round(log(datum.value)/LN10))<0.01 ? '10'+['⁰','¹','²','³','⁴','⁵','⁶','⁷','⁸','⁹','¹⁰','¹¹','¹²','¹³','¹⁴'][round(log(datum.value)/LN10)] : ''"}},
              "shape": {"field": "sd", "type": "nominal", "scale": {"domain": ["meas","fit","kr","gl"], "range": ["circle","stroke","stroke","stroke"]},
                "legend": {"orient": "none", "legendX": 20, "legendY": 51, "title": null, "labelOffset": 6, "rowPadding": 2, "symbolStrokeWidth": 2,
                  "labelExpr": "datum.label=='meas' ? 'Measured data' : datum.label=='fit' ? 'Best fit' : datum.label=='kr' ? 'Kraichnan 1962' : 'Grossman &'"}},
              "fill": {"field": "sd", "type": "nominal", "scale": {"domain": ["meas","fit","kr","gl"], "range": ["#1a75c2","transparent","transparent","transparent"]}},
              "stroke": {"field": "sd", "type": "nominal", "scale": {"domain": ["meas","fit","kr","gl"], "range": ["#1a75c2","#5a5a5a","#e8242a","#f0a21e"]}},
              "strokeDash": {"field": "sd", "type": "nominal", "scale": {"domain": ["meas","fit","kr","gl"], "range": [[1,0],[1,0],[4,3],[1,0]]}},
              "size": {"field": "sd", "type": "nominal", "scale": {"type": "ordinal", "domain": ["meas","fit","kr","gl"], "range": [40,220,220,220]}}
            }
          },
          {
            "data": {"values": [{}]},
            "layer": [
              {"mark": {"type": "text", "fontSize": 22, "fontWeight": "bold", "align": "left", "baseline": "middle", "color": "#111"},
               "encoding": {"x": {"datum": 1.6e9}, "y": {"datum": 114000}, "text": {"value": "d"}}},
              {"mark": {"type": "text", "fontSize": 15, "align": "left", "baseline": "middle", "color": "#222"},
               "encoding": {"x": {"datum": 3.35e9}, "y": {"datum": 12500}, "text": {"value": "Lohse 2011"}}},
              {"mark": {"type": "text", "angle": 270, "align": "left", "baseline": "alphabetic", "fontSize": 15, "fontWeight": "bold", "fontStyle": "italic", "color": "#222"},
               "encoding": {"x": {"datum": 3.47e8}, "y": {"datum": 10740}, "text": {"value": "Re"}}},
              {"mark": {"type": "text", "angle": 270, "align": "left", "baseline": "alphabetic", "fontSize": 10, "fontWeight": "bold", "fontStyle": "italic", "color": "#222", "dx": 19, "dy": 4},
               "encoding": {"x": {"datum": 3.47e8}, "y": {"datum": 10740}, "text": {"value": "w"}}},
              {"mark": {"type": "text", "angle": 324.5, "align": "left", "baseline": "alphabetic", "fontSize": 15, "fontStyle": "italic", "color": "#8c8c8c"},
               "encoding": {"x": {"datum": 1.45e11}, "y": {"datum": 18660}, "text": {"value": "Re"}}},
              {"mark": {"type": "text", "angle": 324.5, "align": "left", "baseline": "alphabetic", "fontSize": 10, "fontStyle": "italic", "color": "#8c8c8c", "dx": 15, "dy": 4},
               "encoding": {"x": {"datum": 1.45e11}, "y": {"datum": 18660}, "text": {"value": "w"}}},
              {"mark": {"type": "text", "angle": 324.5, "align": "left", "baseline": "alphabetic", "fontSize": 15, "color": "#8c8c8c", "dx": 25},
               "encoding": {"x": {"datum": 1.45e11}, "y": {"datum": 18660}, "text": {"value": "= 0.0424"}}},
              {"mark": {"type": "text", "angle": 324.5, "align": "left", "baseline": "alphabetic", "fontSize": 15, "fontStyle": "italic", "color": "#8c8c8c", "dx": 85},
               "encoding": {"x": {"datum": 1.45e11}, "y": {"datum": 18660}, "text": {"value": "Ta"}}},
              {"mark": {"type": "text", "angle": 324.5, "align": "left", "baseline": "alphabetic", "fontSize": 10, "color": "#8c8c8c", "dx": 102, "dy": -8},
               "encoding": {"x": {"datum": 1.45e11}, "y": {"datum": 18660}, "text": {"value": "0.495±0.010"}}}
            ]
          }
        ]},
        {
          "data": {"values": [{"ta": 1e11, "re": 10000}]},
          "mark": {"type": "point", "opacity": 0},
          "encoding": {
            "x": {"field": "ta", "type": "quantitative", "scale": {"type": "log", "domain": [1e9, 1e14], "nice": false},
              "axis": {"orient": "top", "values": [1e9,1e10,1e11,1e12,1e13,1e14], "tickSize": 7, "offset": -7, "labels": false, "title": null}},
            "y": {"field": "re", "type": "quantitative", "scale": {"type": "log", "domain": [1000, 198000], "nice": false},
              "axis": {"orient": "right", "values": [1000,10000,100000], "tickSize": 7, "offset": -7, "labels": false, "title": null}}
          }
        },
        {
          "data": {"values": [{"ta": 1e11, "re": 10000}]},
          "mark": {"type": "point", "opacity": 0},
          "encoding": {
            "x": {"field": "ta", "type": "quantitative", "scale": {"type": "log", "domain": [1e9, 1e14], "nice": false},
              "axis": {"orient": "bottom", "values": [2e9,3e9,4e9,5e9,6e9,7e9,8e9,9e9,2e10,3e10,4e10,5e10,6e10,7e10,8e10,9e10,2e11,3e11,4e11,5e11,6e11,7e11,8e11,9e11,2e12,3e12,4e12,5e12,6e12,7e12,8e12,9e12,2e13,3e13,4e13,5e13,6e13,7e13,8e13,9e13], "tickSize": 4, "offset": -4, "labels": false, "title": null}},
            "y": {"field": "re", "type": "quantitative", "scale": {"type": "log", "domain": [1000, 198000], "nice": false},
              "axis": {"orient": "left", "values": [2000,3000,4000,5000,6000,7000,8000,9000,20000,30000,40000,50000,60000,70000,80000,90000], "tickSize": 4, "offset": -4, "labels": false, "title": null}}
          }
        },
        {
          "data": {"values": [{"ta": 1e11, "re": 10000}]},
          "mark": {"type": "point", "opacity": 0},
          "encoding": {
            "x": {"field": "ta", "type": "quantitative", "scale": {"type": "log", "domain": [1e9, 1e14], "nice": false},
              "axis": {"orient": "top", "values": [2e9,3e9,4e9,5e9,6e9,7e9,8e9,9e9,2e10,3e10,4e10,5e10,6e10,7e10,8e10,9e10,2e11,3e11,4e11,5e11,6e11,7e11,8e11,9e11,2e12,3e12,4e12,5e12,6e12,7e12,8e12,9e12,2e13,3e13,4e13,5e13,6e13,7e13,8e13,9e13], "tickSize": 4, "offset": -4, "labels": false, "title": null}},
            "y": {"field": "re", "type": "quantitative", "scale": {"type": "log", "domain": [1000, 198000], "nice": false},
              "axis": {"orient": "right", "values": [2000,3000,4000,5000,6000,7000,8000,9000,20000,30000,40000,50000,60000,70000,80000,90000], "tickSize": 4, "offset": -4, "labels": false, "title": null}}
          }
        },
        {"layer": [
          {
            "data": {"values": [{}]},
            "mark": {"type": "rect", "fill": "white", "stroke": "#555", "strokeWidth": 1.2},
            "encoding": {"x": {"datum": 1e9, "axis": null}, "x2": {"datum": 1e13}, "y": {"datum": 0.0299, "axis": null}, "y2": {"datum": 0.0411}}
          },
          {
            "data": {"values": [
              {"ta":3.84e9,"c":0.03955},{"ta":3.84e9,"c":0.03898},{"ta":3.84e9,"c":0.03785},{"ta":3.84e9,"c":0.037},
              {"ta":1.53e10,"c":0.0387},{"ta":1.53e10,"c":0.03785},{"ta":1.53e10,"c":0.037},
              {"ta":6.17e10,"c":0.03898},{"ta":6.17e10,"c":0.03842},{"ta":6.17e10,"c":0.03757},{"ta":6.17e10,"c":0.037},
              {"ta":3.79e11,"c":0.03994},{"ta":3.79e11,"c":0.03757},{"ta":3.79e11,"c":0.03684},{"ta":3.79e11,"c":0.03616},
              {"ta":1.53e12,"c":0.03757},{"ta":1.53e12,"c":0.037},{"ta":1.53e12,"c":0.03644},
              {"ta":6.22e12,"c":0.03802},{"ta":6.22e12,"c":0.03712},{"ta":6.22e12,"c":0.03559}
            ]},
            "mark": {"type": "circle", "color": "#1a75c2", "opacity": 1, "size": 40},
            "encoding": {
              "x": {"field": "ta", "type": "quantitative", "scale": {"type": "log", "domain": [1e9, 1e13], "range": [264, 367], "nice": false}, "axis": null},
              "y": {"field": "c", "type": "quantitative", "scale": {"domain": [0.0299, 0.0411], "range": [189, 123], "nice": false, "zero": false}, "axis": null}
            }
          },
          {
            "data": {"values": [{"ta":1e9,"c":0.0398},{"ta":1e10,"c":0.0376},{"ta":1e11,"c":0.0359},{"ta":1e12,"c":0.0342},{"ta":1e13,"c":0.0325}]},
            "mark": {"type": "line", "color": "#e8242a", "strokeWidth": 1.5, "strokeDash": [4, 3]},
            "encoding": {"x": {"field": "ta", "type": "quantitative", "axis": null}, "y": {"field": "c", "type": "quantitative", "axis": null}}
          },
          {
            "data": {"values": [{"ta":1e9,"c":0.0386},{"ta":1e13,"c":0.0369}]},
            "mark": {"type": "line", "color": "#5a5a5a", "strokeWidth": 2.5},
            "encoding": {"x": {"field": "ta", "type": "quantitative", "axis": null}, "y": {"field": "c", "type": "quantitative", "axis": null}}
          },
          {
            "data": {"values": [{"ta":1e9,"c":0.03765},{"ta":1e13,"c":0.03765}]},
            "mark": {"type": "line", "color": "#f0a21e", "strokeWidth": 2.5},
            "encoding": {"x": {"field": "ta", "type": "quantitative", "axis": null}, "y": {"field": "c", "type": "quantitative", "axis": null}}
          },
          {
            "data": {"values": [{"c": 0.03}, {"c": 0.035}, {"c": 0.04}]},
            "layer": [
              {"mark": {"type": "rule", "color": "#333", "strokeWidth": 1},
               "encoding": {"x": {"datum": 1e9, "axis": null}, "x2": {"datum": 1.43e9}, "y": {"field": "c", "type": "quantitative", "axis": null}}},
              {"mark": {"type": "text", "align": "right", "baseline": "middle", "dx": -5, "fontSize": 12.5, "color": "#222"},
               "encoding": {"x": {"datum": 1e9, "axis": null}, "y": {"field": "c", "type": "quantitative", "axis": null}, "text": {"field": "c", "type": "quantitative", "format": ".3f"}}}
            ]
          },
          {
            "data": {"values": [{"ta": 1e10}, {"ta": 1e11}, {"ta": 1e12}]},
            "mark": {"type": "rule", "color": "#333", "strokeWidth": 1},
            "encoding": {"x": {"field": "ta", "type": "quantitative", "axis": null}, "y": {"datum": 0.0299, "axis": null}, "y2": {"datum": 0.03058}}
          },
          {
            "data": {"values": [{"ta": 1e9, "lab": "10⁹"}, {"ta": 1e11, "lab": "10¹¹"}, {"ta": 1e13, "lab": "10¹³"}]},
            "mark": {"type": "text", "align": "center", "baseline": "top", "dy": 5, "fontSize": 12.5, "color": "#222"},
            "encoding": {"x": {"field": "ta", "type": "quantitative", "axis": null}, "y": {"datum": 0.0299, "axis": null}, "text": {"field": "lab", "type": "nominal"}}
          },
          {
            "data": {"values": [{}]},
            "layer": [
              {"mark": {"type": "text", "align": "center", "baseline": "middle", "fontSize": 15, "fontWeight": "bold", "fontStyle": "italic", "color": "#222"},
               "encoding": {"x": {"datum": 1e11, "axis": null}, "y": {"datum": 0.02495, "axis": null}, "text": {"value": "Ta"}}},
              {"mark": {"type": "text", "angle": 270, "align": "left", "baseline": "alphabetic", "fontSize": 12, "fontWeight": "bold", "fontStyle": "italic", "color": "#222"},
               "encoding": {"x": {"datum": 1.64e7, "axis": null}, "y": {"datum": 0.03109, "axis": null}, "text": {"value": "Re"}}},
              {"mark": {"type": "text", "angle": 270, "align": "left", "baseline": "alphabetic", "fontSize": 8.5, "fontWeight": "bold", "fontStyle": "italic", "color": "#222", "dx": 15, "dy": 3},
               "encoding": {"x": {"datum": 1.64e7, "axis": null}, "y": {"datum": 0.03109, "axis": null}, "text": {"value": "w"}}},
              {"mark": {"type": "text", "angle": 270, "align": "left", "baseline": "alphabetic", "fontSize": 12, "fontWeight": "bold", "fontStyle": "italic", "color": "#222", "dx": 22},
               "encoding": {"x": {"datum": 1.64e7, "axis": null}, "y": {"datum": 0.03109, "axis": null}, "text": {"value": "Ta"}}},
              {"mark": {"type": "text", "angle": 270, "align": "left", "baseline": "alphabetic", "fontSize": 8.5, "fontWeight": "bold", "color": "#222", "dx": 37, "dy": -6},
               "encoding": {"x": {"datum": 1.64e7, "axis": null}, "y": {"datum": 0.03109, "axis": null}, "text": {"value": "−1/2"}}}
            ]
          }
        ]}
      ]
    }
  ],
  "config": {
    "font": "Noto Sans",
    "view": {"stroke": "#555", "strokeWidth": 1.2},
    "axis": {
      "grid": false, "domain": false, "offset": -5, "tickColor": "#333", "tickWidth": 1, "tickSize": 5,
      "labelFont": "Noto Sans", "labelFontSize": 14, "labelColor": "#222", "labelFlush": false, "labelOverlap": false, "labelPadding": 4,
      "titleFont": "Noto Sans", "titleFontSize": 16, "titleFontWeight": "bold", "titleFontStyle": "italic", "titleColor": "#222", "titlePadding": 2
    },
    "axisBottom": {"labelPadding": 6},
    "legend": {"labelFont": "Noto Sans", "labelFontSize": 15, "labelColor": "#222", "labelLimit": 300, "padding": 0, "titleFont": "Noto Sans", "titleColor": "#222"},
    "text": {"font": "Noto Sans"}
  }
}
